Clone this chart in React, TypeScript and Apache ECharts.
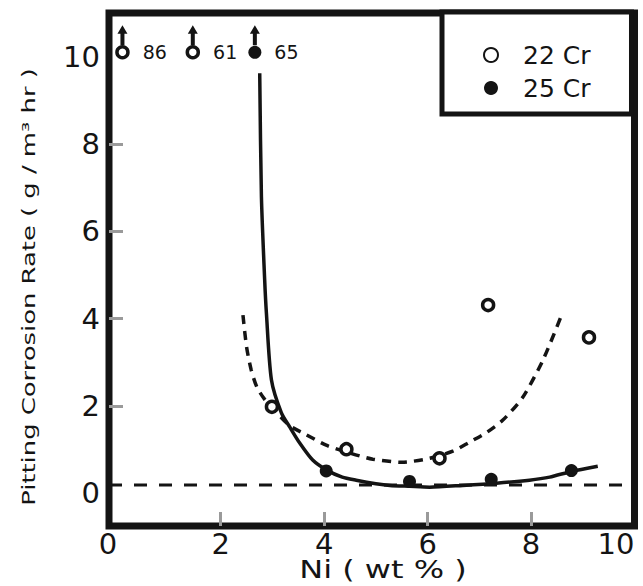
import React, { useEffect, useRef } from "react";
import * as echarts from "echarts";

// Axis ticks / labels
const xTicks = [0, 2, 4, 6, 8, 10];
const yTicks = [0, 2, 4, 6, 8, 10];
const innerTicks = [2, 4, 6, 8];

// 22 Cr measured points (open circles)
const cr22X = [2.99, 4.43, 6.23, 7.17, 9.12];
const cr22Y = [1.98, 1.01, 0.8, 4.31, 3.57];
// 25 Cr measured points (filled circles)
const cr25X = [4.04, 5.65, 7.23, 8.78];
const cr25Y = [0.51, 0.27, 0.32, 0.52];

// off-scale points (drawn at the top of the scale with an arrow and their value)
const off22X = [0.1, 1.46];
const off22Val = ["86", "61"];
const off25X = [2.66];
const off25Val = ["65"];
const offY = 10.1;

// fitted curve for 25 Cr (solid)
const fit25X = [2.754, 2.787, 2.85, 2.883, 2.98, 3.173, 3.333, 3.527, 3.778, 4.05, 4.35, 4.62, 5.0, 5.27, 5.65, 6.04, 6.68, 7.33, 7.97, 8.36, 8.78, 9.29];
const fit25Y = [9.62, 6.79, 4.88, 4.13, 2.6, 1.84, 1.52, 1.15, 0.76, 0.53, 0.37, 0.3, 0.22, 0.18, 0.16, 0.14, 0.18, 0.23, 0.3, 0.37, 0.5, 0.62];

// fitted curve for 22 Cr (dashed)
const fit22X = [2.43, 2.5, 2.59, 2.7, 2.85, 3.0, 3.33, 3.64, 4.04, 4.5, 4.94, 5.5, 6.04, 6.5, 6.81, 7.15, 7.45, 7.84, 8.23, 8.59];
const fit22Y = [4.08, 3.35, 2.82, 2.43, 2.15, 1.95, 1.55, 1.35, 1.1, 0.92, 0.78, 0.71, 0.8, 0.97, 1.17, 1.4, 1.67, 2.2, 3.05, 4.08];

// horizontal dashed reference line
const baseX = [-0.16, 10];
const baseY = [0.19, 0.19];

const arrowPath = "path://M5,0L10,10L7,10L7,24L3,24L3,10L0,10Z";

export default function App() {
  const ref = useRef<HTMLDivElement>(null);
  useEffect(() => {
    const chart = echarts.init(ref.current!, null, { renderer: "svg" });
    const font = "DejaVu Sans";
    const ink = "#141414";
    const offLabel = (v: string) => ({
      show: true,
      formatter: v,
      position: "right",
      distance: 13,
      fontSize: 19,
      fontFamily: font,
      color: ink,
    });
    const data22: any[] = cr22X.map((x, i) => [x, cr22Y[i]]);
    off22X.forEach((x, i) => data22.push({ value: [x, offY], label: offLabel(off22Val[i]) }));
    const data25: any[] = cr25X.map((x, i) => [x, cr25Y[i]]);
    off25X.forEach((x, i) => data25.push({ value: [x, offY], label: offLabel(off25Val[i]) }));

    chart.setOption({
      animation: false,
      backgroundColor: "#fff",
      grid: {
        left: 109,
        right: 8.5,
        top: 13,
        bottom: 60,
        show: true,
        borderColor: ink,
        borderWidth: 7,
        backgroundColor: "transparent",
        outerBoundsMode: "none",
      },
      xAxis: {
        type: "value",
        min: -0.16,
        max: 10,
        axisLine: { show: false, onZero: false },
        splitLine: { show: false },
        axisTick: { show: true, inside: true, length: 14, customValues: innerTicks, lineStyle: { color: "#9a9a9a", width: 3 } },
        axisLabel: {
          customValues: xTicks,
          margin: 3,
          fontSize: 29,
          fontFamily: font,
          color: ink,
          alignMinLabel: "right",
          alignMaxLabel: "right",
        },
      },
      yAxis: {
        type: "value",
        min: -0.75,
        max: 11,
        axisLine: { show: false, onZero: false },
        splitLine: { show: false },
        axisTick: { show: true, inside: true, length: 14, customValues: innerTicks, lineStyle: { color: "#9a9a9a", width: 3 } },
        axisLabel: { customValues: yTicks, margin: 9, fontSize: 29, fontFamily: font, color: ink },
      },
      legend: {
        data: [{ name: "22 Cr" }, { name: "25 Cr" }],
        orient: "vertical",
        left: 442,
        top: 12,
        padding: [30.5, 41, 13.5, 41],
        itemGap: 8,
        itemWidth: 14,
        itemHeight: 14,
        backgroundColor: "#fff",
        borderColor: ink,
        borderWidth: 5,
        borderRadius: 0,
        textStyle: { fontSize: 25, fontFamily: font, color: ink, padding: [0, 0, 0, 20] },
      },
      graphic: [
        {
          type: "text",
          x: 29,
          y: 287,
          rotation: Math.PI / 2,
          scaleX: 1.52,
          style: {
            text: "Pitting Corrosion Rate ( g / m³ hr )",
            fontFamily: font,
            fontSize: 17,
            fill: ink,
            align: "center",
            verticalAlign: "middle",
          },
        },
        {
          type: "text",
          x: 383,
          y: 569,
          scaleX: 1.28,
          style: {
            text: "Ni ( wt % )",
            fontFamily: font,
            fontSize: 25,
            fill: ink,
            align: "center",
            verticalAlign: "middle",
          },
        },
      ],
      series: [
        {
          name: "baseline",
          type: "line",
          data: baseX.map((x, i) => [x, baseY[i]]),
          symbol: "none",
          lineStyle: { color: ink, width: 3, type: [13, 12] },
          z: 2,
        },
        {
          name: "22 Cr fit",
          type: "line",
          data: fit22X.map((x, i) => [x, fit22Y[i]]),
          symbol: "none",
          smooth: 0.25,
          lineStyle: { color: ink, width: 3.5, type: [9, 7] },
          z: 3,
        },
        {
          name: "25 Cr fit",
          type: "line",
          data: fit25X.map((x, i) => [x, fit25Y[i]]),
          symbol: "none",
          smooth: 0.25,
          lineStyle: { color: ink, width: 3.5 },
          z: 3,
        },
        {
          name: "22 Cr",
          type: "scatter",
          symbol: "circle",
          symbolSize: 11,
          itemStyle: { color: "#fff", borderColor: ink, borderWidth: 3.5, opacity: 1 },
          data: data22,
          z: 5,
        },
        {
          name: "25 Cr",
          type: "scatter",
          symbol: "circle",
          symbolSize: 13,
          itemStyle: { color: ink, opacity: 1 },
          data: data25,
          z: 5,
        },
        {
          name: "off-scale",
          type: "scatter",
          symbol: arrowPath,
          symbolSize: [10, 20],
          symbolOffset: [0, -17],
          itemStyle: { color: ink, opacity: 1 },
          data: [...off22X, ...off25X].map((x) => [x, offY]),
          silent: true,
          z: 4,
        },
      ],
    });
    return () => chart.dispose();
  }, []);
  return (
    <div
      ref={ref}
      style={{ position: "fixed", left: 0, top: 0, width: 643, height: 586, background: "#fff" }}
    />
  );
}
